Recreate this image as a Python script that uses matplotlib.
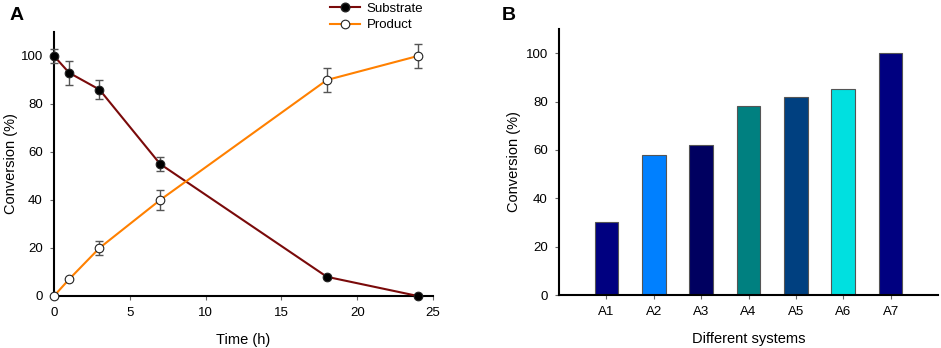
import matplotlib
matplotlib.use("Agg")
import matplotlib.pyplot as plt
from matplotlib.lines import Line2D

plt.rcParams['font.family'] = ['Liberation Sans', 'DejaVu Sans']

time_h = [0, 1, 3, 7, 18, 24]
substrate = [100, 93, 86, 55, 8, 0]
substrate_err = [3, 5, 4, 3, 0, 0]
product = [0, 7, 20, 40, 90, 100]
product_err = [0, 0, 3, 4, 5, 5]

systems = ["A1", "A2", "A3", "A4", "A5", "A6", "A7"]
conversion = [30, 58, 62, 78, 82, 85, 100]
bar_colors = ["#000080", "#0080FF", "#000060", "#008080", "#004080", "#00E0E0", "#000080"]

sub_color = "#7A0A0A"
prod_color = "#FF8000"

fig = plt.figure(figsize=(9.41, 3.48), dpi=100)

# Panel A
axA = fig.add_axes([54/941, 1-296/348, (433-54)/941, (296-32)/348])
for y, err, lc, mfc in [(substrate, substrate_err, sub_color, 'black'),
                        (product, product_err, prod_color, 'white')]:
    axA.plot(time_h, y, color=lc, lw=1.5, zorder=3, clip_on=False)
    axA.errorbar(time_h, y, yerr=err, fmt='none', ecolor='#555555',
                 elinewidth=1, capsize=3, capthick=1, zorder=4, clip_on=False)
    axA.plot(time_h, y, ls='none', marker='o', ms=6.2, mfc=mfc, mec='#222222',
             mew=0.8, zorder=5, clip_on=False)
axA.set_xlim(0, 25)
axA.set_ylim(0, 110)
axA.set_xticks([0, 5, 10, 15, 20, 25])
axA.set_yticks([0, 20, 40, 60, 80, 100])
axA.set_xlabel("Time (h)", fontsize=10.5, labelpad=10)
axA.set_ylabel("Conversion (%)", fontsize=10.5, labelpad=2)

handles = [Line2D([], [], color=sub_color, lw=1.5, marker='o', ms=6.2, mfc='black', mec='#222222'),
           Line2D([], [], color=prod_color, lw=1.5, marker='o', ms=6.2, mfc='white', mec='#222222', mew=0.8)]
fig.legend(handles, ["Substrate", "Product"], loc='upper left', bbox_to_anchor=(322/941, 1.015),
           frameon=False, fontsize=9.5, handlelength=2.3, handletextpad=0.5, labelspacing=0.3,
           borderpad=0.1)

# Panel B
axB = fig.add_axes([559/941, 1-295/348, (938-559)/941, (295-29)/348])
x = list(range(1, len(systems) + 1))
axB.bar(x, conversion, width=0.5, color=bar_colors, edgecolor='#555555', linewidth=0.8, zorder=2)
axB.set_xlim(0, 8)
axB.set_ylim(0, 110)
axB.set_xticks(x)
axB.set_xticklabels(systems)
axB.set_yticks([0, 20, 40, 60, 80, 100])
axB.set_xlabel("Different systems", fontsize=10.5, labelpad=10)
axB.set_ylabel("Conversion (%)", fontsize=10.5, labelpad=3)

for ax in [axA, axB]:
    ax.spines['top'].set_visible(False)
    ax.spines['right'].set_visible(False)
    ax.spines['left'].set_linewidth(1.5)
    ax.spines['bottom'].set_linewidth(1.5)
    ax.tick_params(axis='both', labelsize=9.5, direction='out', length=3, width=0.8,
                   color='#666666', pad=5)
    for sp in ['left', 'bottom']:
        ax.spines[sp].set_zorder(2.5)

fig.text(10/941, 1-15/348, "A", fontsize=14, fontweight='bold', va='center', ha='left')
fig.text(502/941, 1-15/348, "B", fontsize=14, fontweight='bold', va='center', ha='left')

fig.savefig("out.png", dpi=100)
